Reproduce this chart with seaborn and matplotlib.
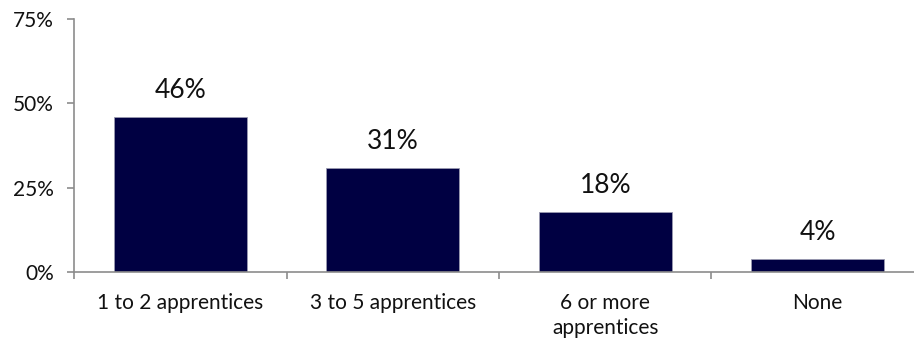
import pandas as pd
import matplotlib.pyplot as plt
import seaborn as sns

categories = ["1 to 2 apprentices", "3 to 5 apprentices", "6 or more\napprentices", "None"]
values = [46, 31, 18, 4]
value_labels = ["46%", "31%", "18%", "4%"]
y_ticks = [0, 25, 50, 75]
y_tick_labels = ["0%", "25%", "50%", "75%"]

bar_color = "#000042"
axis_color = "#8c8c8c"

sns.set_theme(style="white")
plt.rcParams["font.family"] = ["Lato", "DejaVu Sans"]

df = pd.DataFrame({"category": categories, "value": values})

fig = plt.figure(figsize=(9.14, 3.47), dpi=100)
# axes deliberately run a little past the right edge, like the original
ax = fig.add_axes([74 / 914, 74.7 / 347, 850 / 914, 253.3 / 347])

sns.barplot(data=df, x="category", y="value", color=bar_color, width=0.624,
            edgecolor="#9a9ab0", linewidth=0.6, saturation=1, ax=ax)

for cont in ax.containers:
    ax.bar_label(cont, labels=value_labels, padding=10, fontsize=19, color="#111111")

ax.set_xlim(-0.5, 3.5)
ax.set_ylim(0, 75)
ax.set_yticks(y_ticks)
ax.set_yticklabels(y_tick_labels, fontsize=15, color="#111111")
ax.tick_params(axis="y", direction="out", length=5, width=1.2, color=axis_color, pad=9.5, left=True)

ax.set_xticks(range(len(categories)))
ax.set_xticklabels(categories, fontsize=15, color="#111111", linespacing=1.3)
ax.set_xticks([-0.5, 0.5, 1.5, 2.5, 3.5], minor=True)
ax.tick_params(axis="x", which="major", length=0, pad=15)
ax.tick_params(axis="x", which="minor", direction="out", length=5, width=1.2,
               color=axis_color, bottom=True)

ax.set_xlabel("")
ax.set_ylabel("")
for side in ["top", "right"]:
    ax.spines[side].set_visible(False)
for side in ["left", "bottom"]:
    ax.spines[side].set_color(axis_color)
    ax.spines[side].set_linewidth(1.2)

fig.savefig("out.png", dpi=100)
